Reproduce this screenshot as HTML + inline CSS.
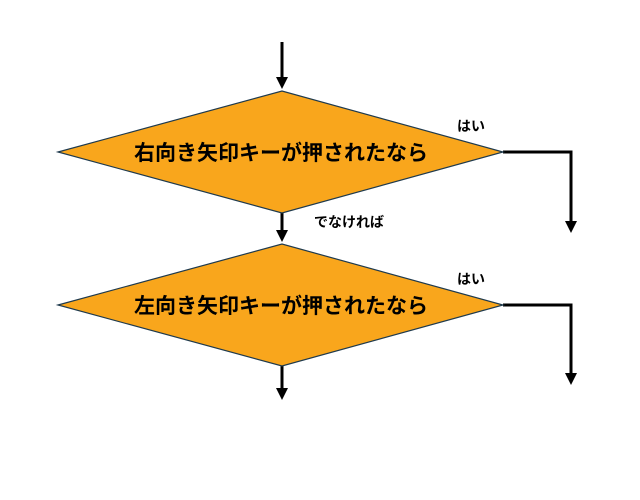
<!DOCTYPE html>
<html><head><meta charset="utf-8"><style>
html,body{margin:0;padding:0;background:#fff;}
svg{display:block;}
text{font-family:"Liberation Sans","Noto Sans CJK JP",sans-serif;fill:#000;}
</style></head><body>
<svg width="640" height="500" viewBox="0 0 640 500" xmlns="http://www.w3.org/2000/svg">
<defs><marker id="a" markerWidth="4" markerHeight="4" refX="3" refY="2" orient="auto" markerUnits="strokeWidth"><path d="M0,0 L4,2 L0,4 z" fill="#000"/></marker></defs>
<g stroke="#000" stroke-width="3" fill="none">
<path d="M282,42 V86" marker-end="url(#a)"/>
<path d="M282,213 V239" marker-end="url(#a)"/>
<path d="M503,152 H571 V230" marker-end="url(#a)"/>
<path d="M503,305 H571 V382" marker-end="url(#a)"/>
<path d="M282,366 V397" marker-end="url(#a)"/>
</g>
<polygon points="58,152 282,91 503,152 282,213" fill="#F9A61C" stroke="#1f3a4d" stroke-width="1.2"/>
<polygon points="58,305 282,244 503,305 282,366" fill="#F9A61C" stroke="#1f3a4d" stroke-width="1.2"/>
<text x="281" y="160" font-size="21" font-weight="bold" text-anchor="middle">右向き矢印キーが押されたなら</text>
<text x="281" y="313" font-size="21" font-weight="bold" text-anchor="middle">左向き矢印キーが押されたなら</text>
<text x="457" y="131" font-size="14" font-weight="bold">はい</text>
<text x="457" y="284" font-size="14" font-weight="bold">はい</text>
<text x="314" y="227" font-size="14" font-weight="bold">でなければ</text>
</svg>
</body></html>
